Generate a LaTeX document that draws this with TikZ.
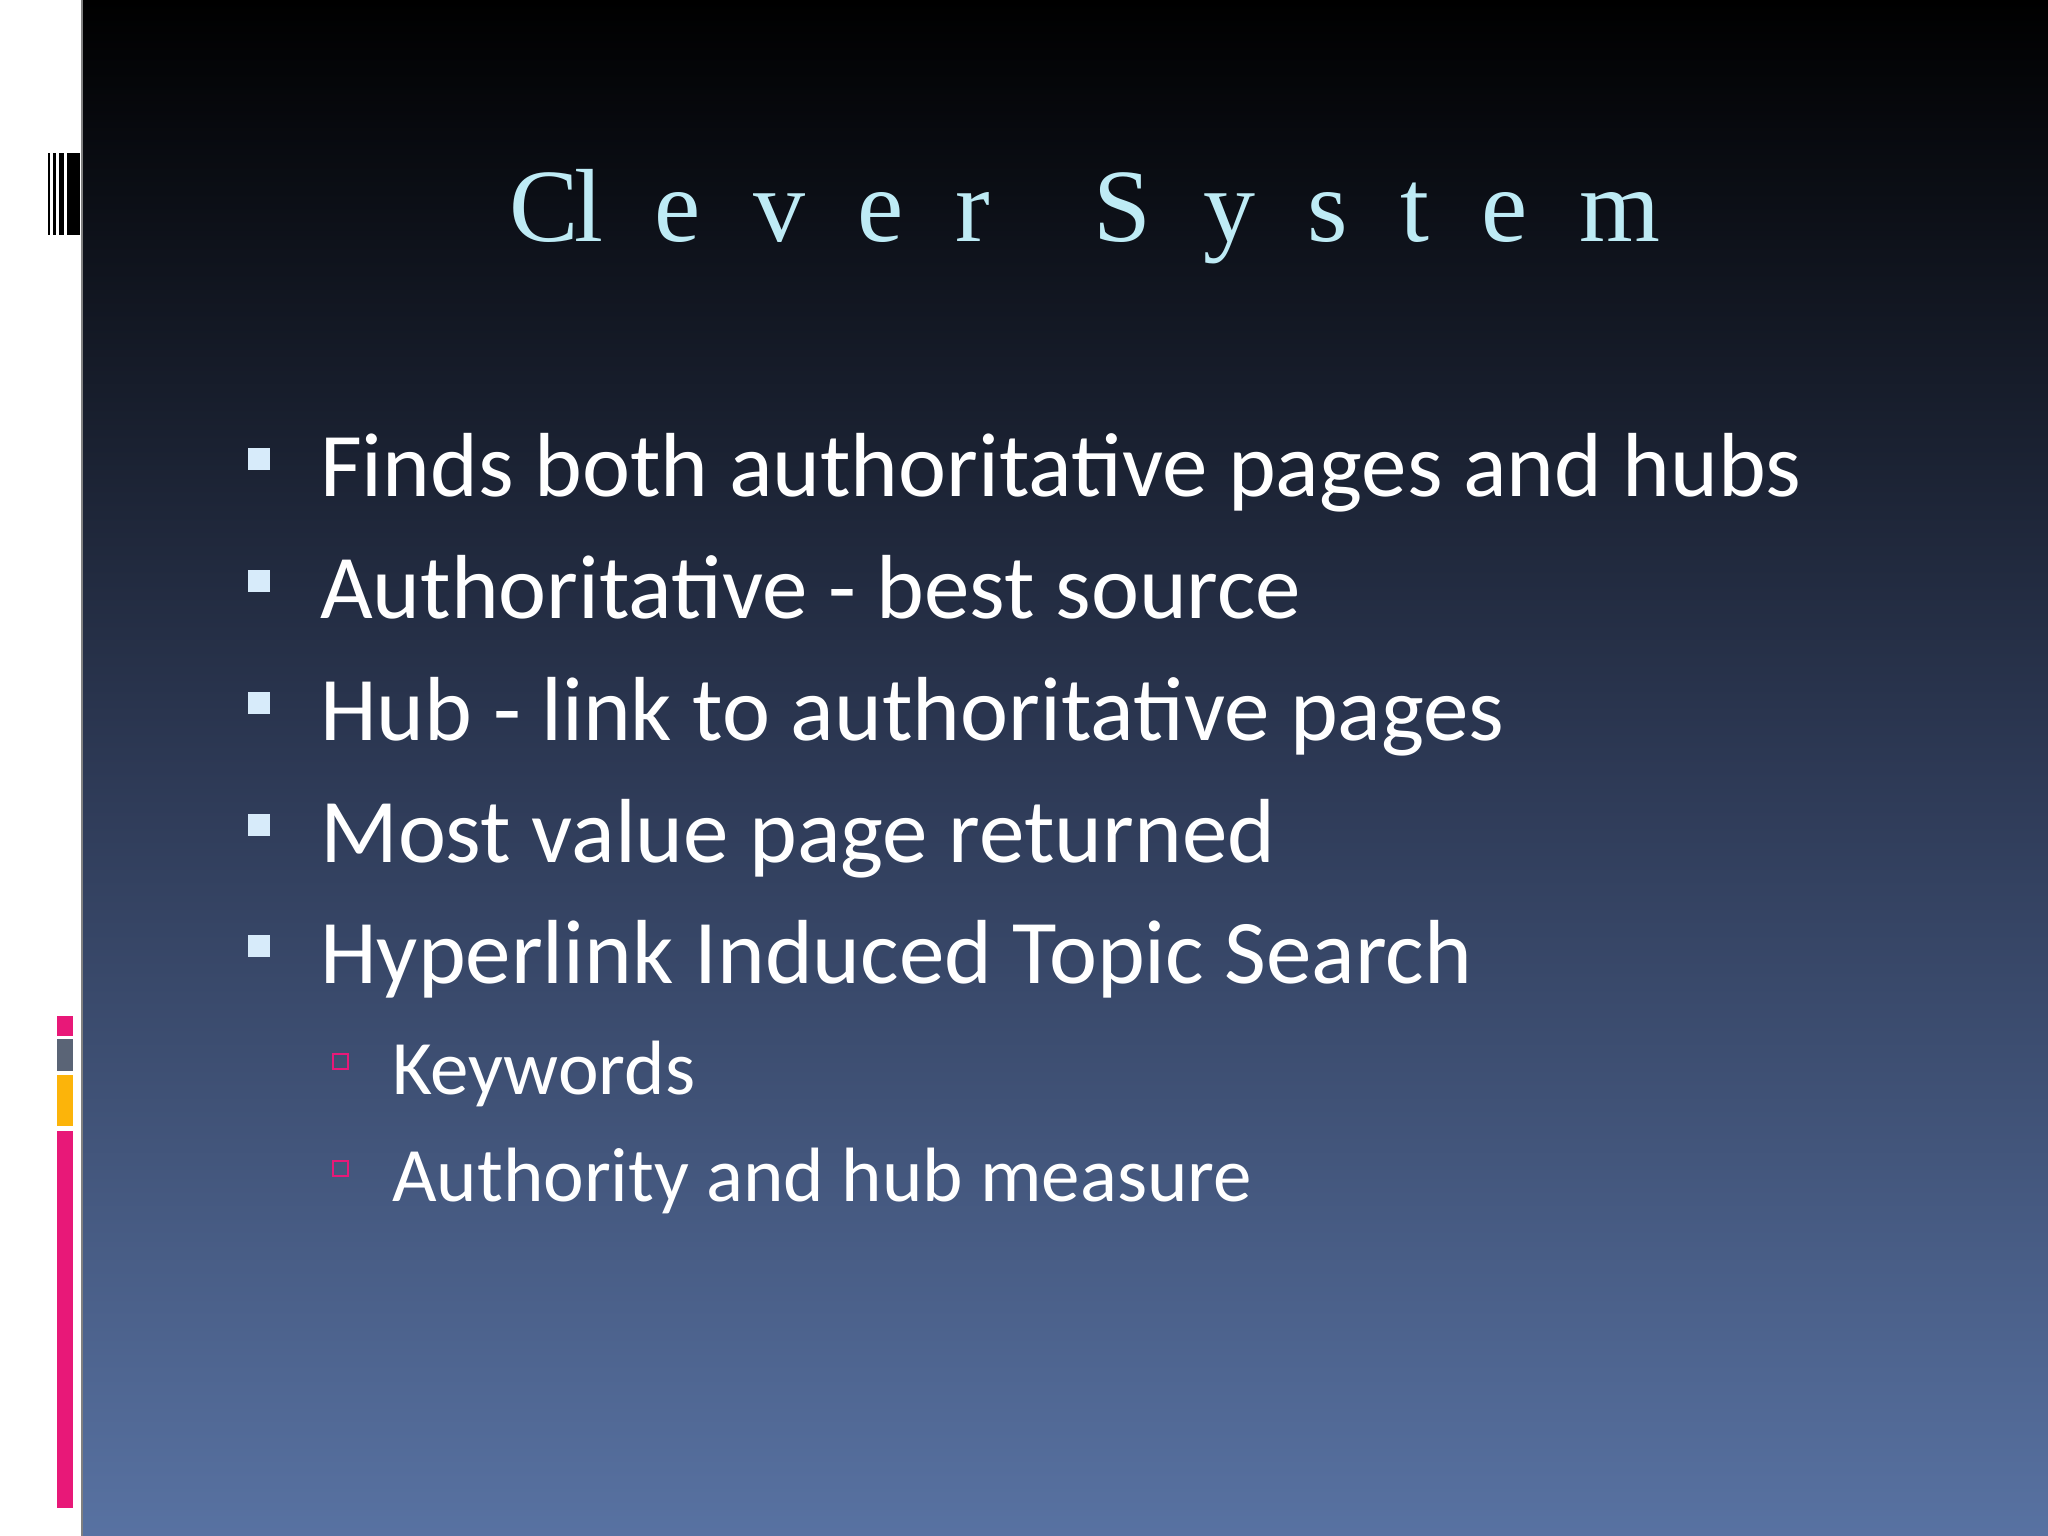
\documentclass[tikz,border=0pt]{standalone}
\usepackage{fontspec}
\setmainfont{Carlito}
\newfontfamily\titlefont[LetterSpace=25]{Liberation Serif}
\definecolor{bgbot}{RGB}{88,114,162}
\definecolor{titlecol}{RGB}{190,235,245}
\definecolor{mypink}{RGB}{232,24,120}
\definecolor{mygrey}{RGB}{90,100,118}
\definecolor{myorange}{RGB}{252,180,10}
\definecolor{bul}{RGB}{215,235,250}
\begin{document}
\begin{tikzpicture}[x=1pt,y=-1pt,
  item/.style={anchor=base west,inner sep=0pt,text=white,font=\fontsize{91}{100}\selectfont},
  subitem/.style={anchor=base west,inner sep=0pt,text=white,font=\fontsize{77}{90}\selectfont},
  bulletbox/.style={fill=bul},
  subbullet/.style={draw=mypink,line width=2.5pt}]
\useasboundingbox (0,0) rectangle (2048,1536);
\fill[white] (0,0) rectangle (82,1536);
\shade[top color=black,bottom color=bgbot,middle color={rgb,255:red,45;green,57;blue,85}] (82,0) rectangle (2048,1536);
\draw[gray,line width=1.5pt] (82,0) -- (82,1536);
% barcode
\fill[black] (48,153) rectangle (50,235);
\fill[black] (53,153) rectangle (56,235);
\fill[black] (59,153) rectangle (64,235);
\fill[black] (67,153) rectangle (80,235);
% side bars
\fill[mypink] (57,1016) rectangle (73,1036);
\fill[mygrey] (57,1039) rectangle (73,1071);
\fill[myorange] (57,1075) rectangle (73,1126);
\fill[mypink] (57,1131) rectangle (73,1508);
% title
\node[anchor=base,inner sep=0pt,text=titlecol,font=\titlefont\fontsize{104}{110}\selectfont] (title) at (1085,241) {C\kern-0.05em l e v e r\quad S y s t e m};
% bullets
\foreach \y in {459,581,703,825,946} \fill[bulletbox] (248,\y-11) rectangle (270,\y+11);
\node[item] (b1) at (320,496) {Finds both authoritative pages and hubs};
\node[item] (b2) at (320,618) {Authoritative - best source};
\node[item] (b3) at (320,740) {Hub - link to authoritative pages};
\node[item] (b4) at (320,862) {Most value page returned};
\node[item] (b5) at (320,983) {Hyperlink Induced Topic Search};
\draw[subbullet] (333,1054) rectangle (348,1069);
\draw[subbullet] (333,1161) rectangle (348,1176);
\node[subitem] (s1) at (392,1094) {Keywords};
\node[subitem] (s2) at (392,1201) {Authority and hub measure};
\end{tikzpicture}
\end{document}
